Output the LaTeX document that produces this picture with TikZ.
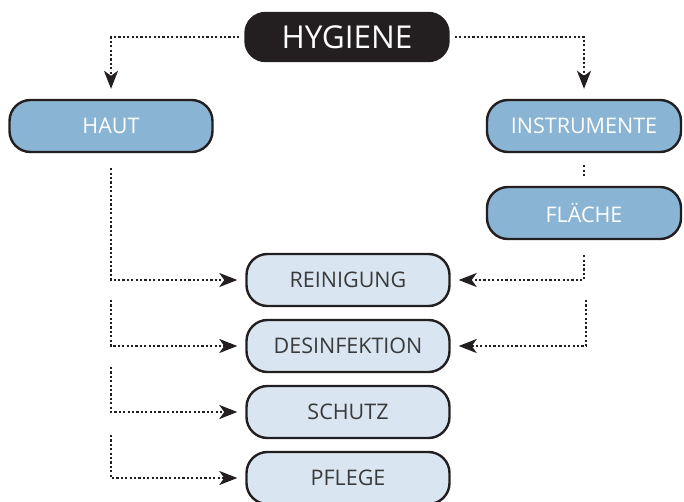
\documentclass[tikz,border=0pt]{standalone}
\usepackage{fontspec}
\setmainfont{Open Sans}
\usetikzlibrary{arrows.meta, positioning}
\definecolor{darkcolor}{RGB}{35,31,32}
\definecolor{primarycolor}{RGB}{138,180,212}
\definecolor{secondarycolor}{RGB}{217,230,242}
\definecolor{labelcolor}{RGB}{58,58,58}

\begin{document}
\begin{tikzpicture}[
    x=1pt, y=-1pt,
    box/.style={rectangle, draw=darkcolor, line width=2.4pt, rounded corners=21pt,
                minimum width=203pt, minimum height=52pt, inner sep=0pt,
                font=\fontsize{21.5}{25}\selectfont},
    topbox/.style={box, fill=darkcolor, text=white, rounded corners=20pt,
                   minimum height=48pt, font=\fontsize{31.5}{36}\selectfont},
    bluebox/.style={box, fill=primarycolor, text=white},
    palebox/.style={box, fill=secondarycolor, text=labelcolor},
    link/.style={draw=darkcolor, line width=2.2pt, dash pattern=on 2.2pt off 2.2pt,
                 -{Stealth[length=18pt, width=14pt, inset=5pt]}}
]
\useasboundingbox (0,0) rectangle (684,501);

\node[topbox] (hyg) at (347,37) {HYGIENE};
\node[bluebox] (haut) at (111,126) {HAUT};
\node[bluebox, minimum width=194pt] (inst) at (584,126) {INSTRUMENTE};
\node[bluebox, minimum width=194pt] (flach) at (584,213) {FLÄCHE};

\node[palebox] (rein) at (348,280) {REINIGUNG};
\node[palebox] (desinf) at (348,346) {DESINFEKTION};
\node[palebox] (schutz) at (348,412) {SCHUTZ};
\node[palebox] (pflege) at (348,478) {PFLEGE};

\coordinate (l2) at (111,300);
\coordinate (l3) at (111,367);
\coordinate (l4) at (111,435);
\coordinate (r2) at (586,300);

\draw[link, shorten <=5pt, shorten >=10pt] (hyg.west) -| (haut.north);
\draw[link, shorten <=5pt, shorten >=10pt] (hyg.east) -| (inst.north);
\draw[link, -, shorten <=12pt, shorten >=10pt] (inst.south) -- (flach.north);

\draw[link, shorten <=15pt, shorten >=8pt] (haut.south) |- (rein.west);
\draw[link, shorten >=8pt] (l2) |- (desinf.west);
\draw[link, shorten >=8pt] (l3) |- (schutz.west);
\draw[link, shorten >=8pt] (l4) |- (pflege.west);

\draw[link, shorten <=15pt, shorten >=8pt] (flach.south) |- (rein.east);
\draw[link, shorten >=8pt] (r2) |- (desinf.east);

\end{tikzpicture}
\end{document}
